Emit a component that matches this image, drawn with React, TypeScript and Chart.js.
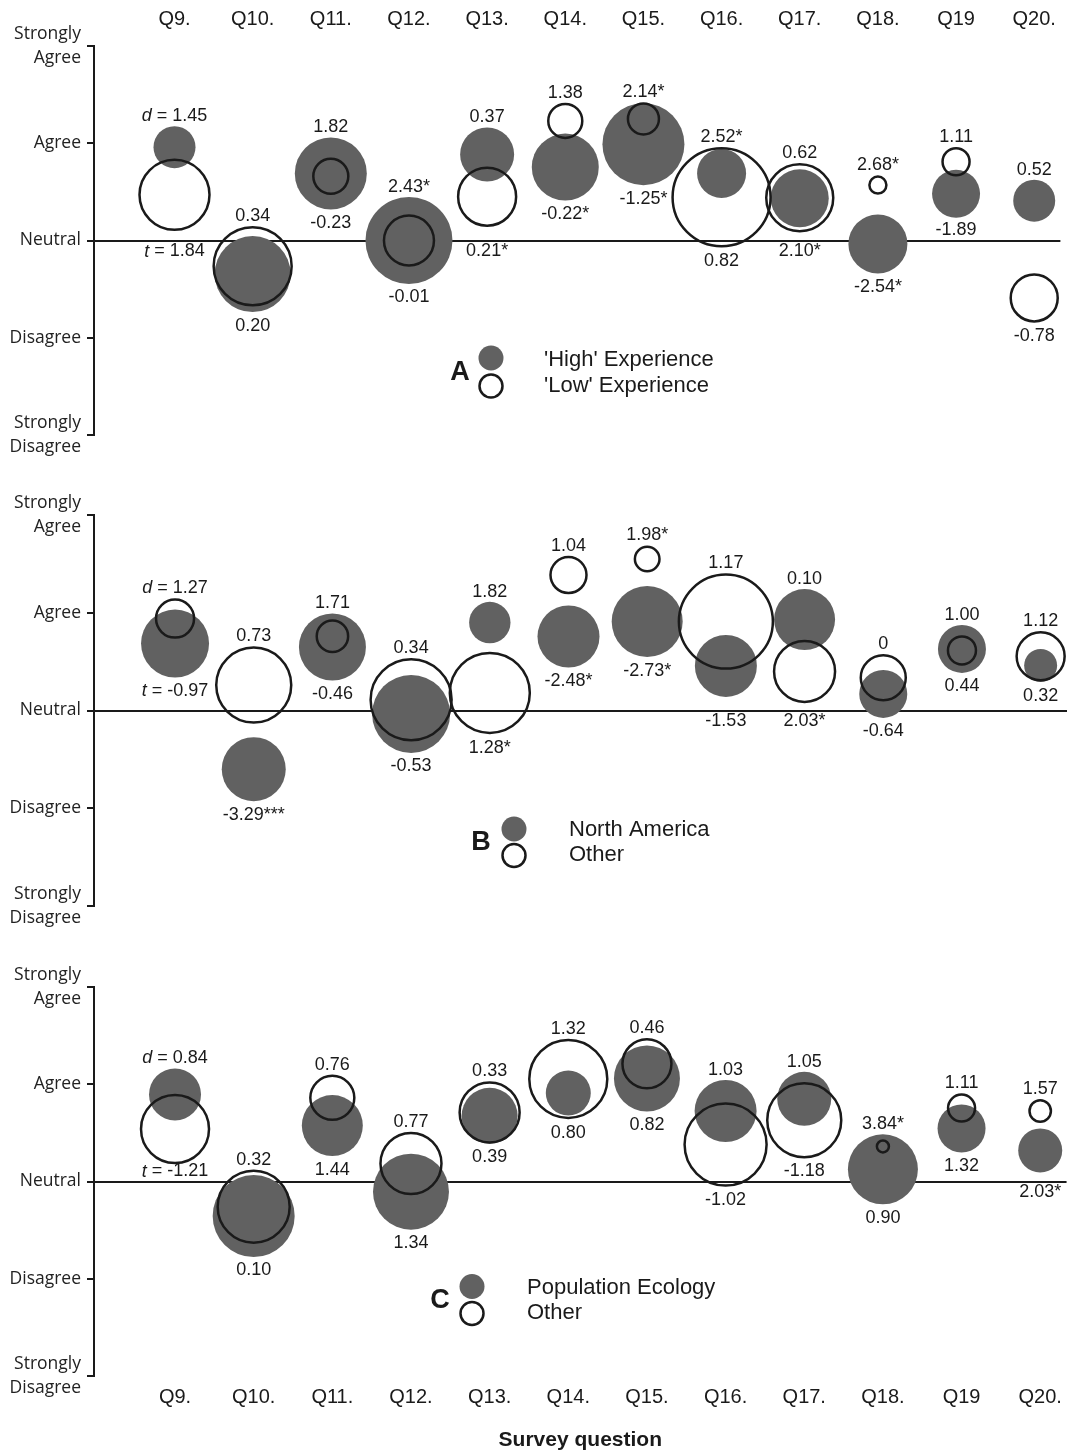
import React, { useEffect, useRef } from 'react';
import { Chart, registerables } from 'chart.js';

Chart.register(...registerables);

// ---------- data ----------
const QUESTIONS = ['Q9.', 'Q10.', 'Q11.', 'Q12.', 'Q13.', 'Q14.', 'Q15.', 'Q16.', 'Q17.', 'Q18.', 'Q19', 'Q20.'];
// y tick labels for values -2, -1, 0, 1, 2
const LIKERT_LABELS: (string | string[])[] = [['Strongly', 'Disagree'], 'Disagree', 'Neutral', 'Agree', ['Strongly', 'Agree']];
const Y_TICKS = [-2, -1, 0, 1, 2];

// Panel A: experience
const A_HIGH_MEAN = [0.96, -0.345, 0.69, 0.0, 0.885, 0.755, 0.99, 0.69, 0.435, -0.035, 0.48, 0.41];
const A_HIGH_R = [21, 38, 36, 43.5, 27, 33.5, 41, 24.5, 29, 29.5, 24, 21];
const A_LOW_MEAN = [0.47, -0.265, 0.66, 0.0, 0.45, 1.23, 1.25, 0.445, 0.44, 0.57, 0.81, -0.59];
const A_LOW_R = [35, 39, 17.5, 25, 29, 17, 15.5, 49, 33.5, 8.5, 13.5, 23.5];
const A_D_LABELS = ['d = 1.45', '0.34', '1.82', '2.43*', '0.37', '1.38', '2.14*', '2.52*', '0.62', '2.68*', '1.11', '0.52'];
const A_T_LABELS = ['t = 1.84', '0.20', '-0.23', '-0.01', '0.21*', '-0.22*', '-1.25*', '0.82', '2.10*', '-2.54*', '-1.89', '-0.78'];

// Panel B: region
const B_NA_MEAN = [0.685, -0.6, 0.65, -0.035, 0.9, 0.757, 0.91, 0.456, 0.93, 0.17, 0.63, 0.46];
const B_NA_R = [34, 32, 33.5, 39, 20.7, 31, 35.5, 31, 30.5, 24, 24, 16.5];
const B_OTHER_MEAN = [0.94, 0.26, 0.76, 0.11, 0.18, 1.386, 1.55, 0.91, 0.4, 0.335, 0.615, 0.555];
const B_OTHER_R = [19, 37.5, 15.7, 40.5, 40, 18, 12.3, 47, 30.5, 22.5, 14, 24];
const B_D_LABELS = ['d = 1.27', '0.73', '1.71', '0.34', '1.82', '1.04', '1.98*', '1.17', '0.10', '0', '1.00', '1.12'];
const B_T_LABELS = ['t = -0.97', '-3.29***', '-0.46', '-0.53', '1.28*', '-2.48*', '-2.73*', '-1.53', '2.03*', '-0.64', '0.44', '0.32'];

// Panel C: discipline
const C_PE_MEAN = [0.895, -0.355, 0.575, -0.105, 0.675, 0.91, 1.06, 0.725, 0.85, 0.125, 0.545, 0.32];
const C_PE_R = [26, 41, 30.5, 38, 28, 22.5, 33, 31, 27, 35, 24, 22];
const C_OTHER_MEAN = [0.54, -0.26, 0.86, 0.185, 0.71, 1.055, 1.21, 0.38, 0.63, 0.36, 0.755, 0.725];
const C_OTHER_R = [34, 36, 22, 30.5, 30, 39, 24.5, 41, 37, 6, 13.5, 10.7];
const C_D_LABELS = ['d = 0.84', '0.32', '0.76', '0.77', '0.33', '1.32', '0.46', '1.03', '1.05', '3.84*', '1.11', '1.57'];
const C_T_LABELS = ['t = -1.21', '0.10', '1.44', '1.34', '0.39', '0.80', '0.82', '-1.02', '-1.18', '0.90', '1.32', '2.03*'];

// ---------- style ----------
const FILL = '#616161';
const INK = '#1a1a1a';
const ARIAL = '"Liberation Sans", Arial, sans-serif';
const OPEN_SANS = '"Open Sans", "DejaVu Sans", sans-serif';
const OPEN_BORDER = 2.5;
const X_MIN = -1.03;
const X_MAX = 11.335;
const LABEL_FONT_SIZE = 18;

type PanelCfg = {
  top: number;
  height: number;
  padTop: number;
  padBottom: number;
  xAxis: 'top' | 'bottom' | 'none';
  xAxisHeight: number;
  filledMean: number[];
  filledR: number[];
  openMean: number[];
  openR: number[];
  topLabels: string[];
  bottomLabels: string[];
  legend: {
    letter: string; letterX: number; letterY: number;
    markX: number; filledY: number; openY: number;
    textX: number; textY1: number; textY2: number;
    filledName: string; openName: string;
  };
};

const PANELS: PanelCfg[] = [
  {
    top: 0, height: 470, padTop: 0, padBottom: 35, xAxis: 'top', xAxisHeight: 46,
    filledMean: A_HIGH_MEAN, filledR: A_HIGH_R, openMean: A_LOW_MEAN, openR: A_LOW_R,
    topLabels: A_D_LABELS, bottomLabels: A_T_LABELS,
    legend: { letter: 'A', letterX: 460, letterY: 373, markX: 491, filledY: 358, openY: 386, textX: 544, textY1: 360, textY2: 386, filledName: "'High' Experience", openName: "'Low' Experience" },
  },
  {
    top: 470, height: 470, padTop: 45, padBottom: 34, xAxis: 'none', xAxisHeight: 0,
    filledMean: B_NA_MEAN, filledR: B_NA_R, openMean: B_OTHER_MEAN, openR: B_OTHER_R,
    topLabels: B_D_LABELS, bottomLabels: B_T_LABELS,
    legend: { letter: 'B', letterX: 481, letterY: 373, markX: 514, filledY: 359, openY: 385.5, textX: 569, textY1: 360, textY2: 385, filledName: 'North America', openName: 'Other' },
  },
  {
    top: 940, height: 513, padTop: 47, padBottom: 0, xAxis: 'bottom', xAxisHeight: 77,
    filledMean: C_PE_MEAN, filledR: C_PE_R, openMean: C_OTHER_MEAN, openR: C_OTHER_R,
    topLabels: C_D_LABELS, bottomLabels: C_T_LABELS,
    legend: { letter: 'C', letterX: 440, letterY: 361, markX: 472, filledY: 346.5, openY: 373.5, textX: 527, textY1: 348, textY2: 373, filledName: 'Population Ecology', openName: 'Other' },
  },
];

// draws "d = 1.45" with italic letter, otherwise plain, centred at x
function drawLabel(ctx: CanvasRenderingContext2D, text: string, x: number, y: number) {
  const plain = `${LABEL_FONT_SIZE}px ${ARIAL}`;
  const italic = `italic ${LABEL_FONT_SIZE}px ${ARIAL}`;
  const m = /^([dt])( = .*)$/.exec(text);
  ctx.textBaseline = 'middle';
  ctx.textAlign = 'left';
  ctx.fillStyle = INK;
  if (m) {
    ctx.font = italic;
    const w1 = ctx.measureText(m[1]).width;
    ctx.font = plain;
    const w2 = ctx.measureText(m[2]).width;
    const x0 = x - (w1 + w2) / 2;
    ctx.font = italic;
    ctx.fillText(m[1], x0, y);
    ctx.font = plain;
    ctx.fillText(m[2], x0 + w1, y);
  } else {
    ctx.font = plain;
    const w = ctx.measureText(text).width;
    ctx.fillText(text, x - w / 2, y);
  }
}

const pairLabelPlugin = {
  id: 'pairLabels',
  afterDatasetsDraw(chart: any, _args: any, opts: any) {
    const ctx: CanvasRenderingContext2D = chart.ctx;
    const zero = chart.scales.y.getPixelForValue(0);
    const metas = [chart.getDatasetMeta(0), chart.getDatasetMeta(1)];
    const n = opts.top.length;
    const half = 7;
    ctx.save();
    for (let i = 0; i < n; i++) {
      let top = Infinity;
      let bottom = -Infinity;
      let x = 0;
      for (const meta of metas) {
        const el = meta.data[i];
        const r = el.options.radius + (el.options.borderWidth || 0) / 2;
        top = Math.min(top, el.y - r);
        bottom = Math.max(bottom, el.y + r);
        x = el.x;
      }
      // label above
      let yT = top - 10;
      if (Math.abs(yT - zero) < 10) {
        const above = zero - 10.5;
        const below = zero + 10.5;
        const belowOk = below + half <= top + 2;
        yT = belowOk && Math.abs(below - yT) < Math.abs(above - yT) ? below : above;
      }
      // label below
      let yB = bottom + 13.5;
      if (Math.abs(yB - zero) < 10) {
        const above = zero - 10;
        const below = zero + 11;
        const aboveOk = above - half >= bottom - 2;
        yB = aboveOk && Math.abs(above - yB) < Math.abs(below - yB) ? above : below;
      }
      drawLabel(ctx, opts.top[i], x, yT);
      drawLabel(ctx, opts.bottom[i], x, yB);
    }
    ctx.restore();
  },
};

const panelLegendPlugin = {
  id: 'panelLegend',
  afterDraw(chart: any, _args: any, o: any) {
    const ctx: CanvasRenderingContext2D = chart.ctx;
    ctx.save();
    ctx.fillStyle = INK;
    ctx.textAlign = 'center';
    ctx.textBaseline = 'middle';
    ctx.font = `bold 27px ${ARIAL}`;
    ctx.fillText(o.letter, o.letterX, o.letterY);
    ctx.beginPath();
    ctx.arc(o.markX, o.filledY, 12.5, 0, Math.PI * 2);
    ctx.fillStyle = FILL;
    ctx.fill();
    ctx.beginPath();
    ctx.arc(o.markX, o.openY, 11.5, 0, Math.PI * 2);
    ctx.lineWidth = OPEN_BORDER;
    ctx.strokeStyle = INK;
    ctx.stroke();
    ctx.fillStyle = INK;
    ctx.textAlign = 'left';
    ctx.font = `22px ${ARIAL}`;
    ctx.fillText(o.filledName, o.textX, o.textY1);
    ctx.fillText(o.openName, o.textX, o.textY2);
    ctx.restore();
  },
};

function Panel({ cfg }: { cfg: PanelCfg }) {
  const ref = useRef<HTMLCanvasElement>(null);
  useEffect(() => {
    if (!ref.current) return;
    const filled = cfg.filledMean.map((v, i) => ({ x: i, y: v, r: cfg.filledR[i] }));
    const open = cfg.openMean.map((v, i) => ({ x: i, y: v, r: cfg.openR[i] }));
    const chart = new Chart(ref.current, {
      type: 'bubble',
      data: {
        datasets: [
          { label: cfg.legend.filledName, data: filled, backgroundColor: FILL, borderWidth: 0, order: 1, clip: false } as any,
          { label: cfg.legend.openName, data: open, backgroundColor: 'rgba(0,0,0,0)', borderColor: INK, borderWidth: OPEN_BORDER, order: 0, clip: false } as any,
        ],
      },
      plugins: [pairLabelPlugin, panelLegendPlugin],
      options: {
        responsive: false,
        animation: false,
        devicePixelRatio: 1,
        events: [],
        layout: { autoPadding: false, padding: { top: cfg.padTop, bottom: cfg.padBottom, left: 0, right: 4 } },
        plugins: {
          legend: { display: false },
          tooltip: { enabled: false },
          pairLabels: { top: cfg.topLabels, bottom: cfg.bottomLabels },
          panelLegend: cfg.legend,
        } as any,
        scales: {
          x: {
            type: 'linear',
            display: cfg.xAxis !== 'none',
            position: cfg.xAxis === 'bottom' ? 'bottom' : 'top',
            min: X_MIN,
            max: X_MAX,
            afterBuildTicks: (s: any) => { s.ticks = QUESTIONS.map((_, i) => ({ value: i })); },
            afterFit: (s: any) => { s.height = cfg.xAxisHeight; },
            grid: { display: false, drawTicks: false },
            border: { display: false },
            ticks: {
              autoSkip: false,
              maxRotation: 0,
              padding: cfg.xAxis === 'top' ? 15 : 9,
              color: INK,
              font: { family: ARIAL, size: 20 },
              callback: (v: any) => QUESTIONS[v as number] ?? '',
            },
            title: {
              display: cfg.xAxis === 'bottom',
              text: 'Survey question',
              color: INK,
              font: { family: ARIAL, size: 21, weight: 'bold' },
              padding: { top: 0, bottom: 0 },
            },
          } as any,
          y: {
            type: 'linear',
            min: -2,
            max: 2,
            afterBuildTicks: (s: any) => { s.ticks = Y_TICKS.map((v) => ({ value: v })); },
            afterFit: (s: any) => { s.width = 94; },
            grid: {
              drawOnChartArea: true,
              drawTicks: true,
              tickLength: 7,
              lineWidth: 2,
              tickWidth: 2,
              tickColor: INK,
              color: (c: any) => (c.tick && c.tick.value === 0 ? INK : 'rgba(0,0,0,0)'),
            },
            border: { display: true, color: INK, width: 2 },
            ticks: {
              padding: 6,
              color: '#222',
              font: { family: OPEN_SANS, size: 17.5, lineHeight: 1.33 },
              callback: (v: any) => LIKERT_LABELS[Y_TICKS.indexOf(v as number)],
            },
          } as any,
        },
      },
    });
    return () => chart.destroy();
  }, [cfg]);
  return (
    <canvas
      ref={ref}
      width={1071}
      height={cfg.height}
      style={{ position: 'absolute', left: 0, top: cfg.top, width: 1071, height: cfg.height, display: 'block' }}
    />
  );
}

export default function App() {
  return (
    <div style={{ position: 'absolute', left: 0, top: 0, width: 1071, height: 1453, background: '#fff', overflow: 'hidden' }}>
      {PANELS.map((p, i) => (
        <Panel key={i} cfg={p} />
      ))}
    </div>
  );
}
